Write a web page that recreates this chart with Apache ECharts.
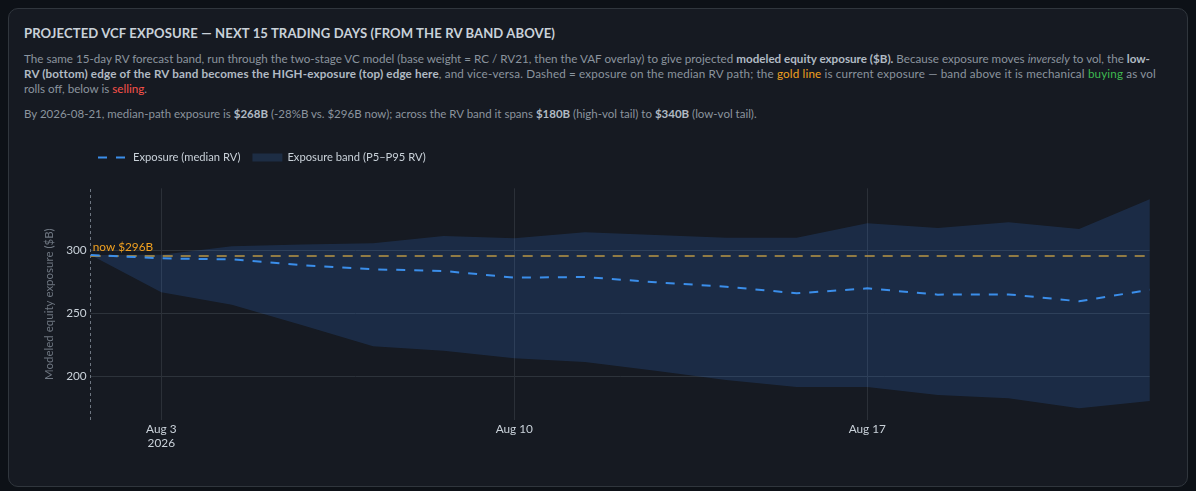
<!DOCTYPE html>
<html>
<head>
<meta charset="utf-8">
<script src="https://cdn.jsdelivr.net/npm/echarts@6/dist/echarts.min.js"></script>
<style>
    html, body { margin: 0; padding: 0; background: #0d1117; }
    body { width: 1196px; height: 491px; position: relative; overflow: hidden; font-family: Lato, "Open Sans", sans-serif; }
    .card { position: absolute; left: 8px; top: 8px; width: 1178px; height: 477px; background: #161a22; border: 1px solid #30363d; border-radius: 10px; }
    .title { position: absolute; left: 15px; top: 16px; font-size: 13.1px; font-weight: 700; color: #c9d1d9; letter-spacing: 0.1px; white-space: nowrap; }
    .desc { position: absolute; left: 15px; top: 42px; font-size: 11.65px; line-height: 15px; color: #8b949e; white-space: nowrap; }
    .desc2 { top: 97px; font-size: 11.5px; }
    .desc b { color: #b1bac4; }
    .wide { letter-spacing: 0.16px; }
    .gold { color: #f0a020; }
    .green { color: #3fb950; }
    .red { color: #f85149; }
    #chart { position: absolute; left: 0; top: 130px; width: 1196px; height: 350px; }
</style>
</head>
<body>
<div class="card">
    <div class="title">PROJECTED VCF EXPOSURE — NEXT 15 TRADING DAYS (FROM THE RV BAND ABOVE)</div>
    <div class="desc">The same 15-day RV forecast band, run through the two-stage VC model (base weight = RC / RV21, then the VAF overlay) to give projected <b>modeled equity exposure ($B).</b> Because exposure moves <i>inversely</i> to vol, the <b>low-</b><br><span class="wide"><b>RV (bottom) edge of the RV band becomes the HIGH-exposure (top) edge here</b>, and vice-versa. Dashed = exposure on the median RV path; the <span class="gold">gold line</span> is current exposure — band above it is mechanical <span class="green">buying</span> as vol</span><br>rolls off, below is <span class="red">selling</span>.</div>
    <div class="desc desc2">By 2026-08-21, median-path exposure is <b>$268B</b> (-28%B vs. $296B now); across the RV band it spans <b>$180B</b> (high-vol tail) to <b>$340B</b> (low-vol tail).</div>
</div>
<div id="chart"></div>
<script>
// trading days of the forecast window
var days = ['2026-07-31', '2026-08-03', '2026-08-04', '2026-08-05', '2026-08-06', '2026-08-07',
    '2026-08-10', '2026-08-11', '2026-08-12', '2026-08-13', '2026-08-14',
    '2026-08-17', '2026-08-18', '2026-08-19', '2026-08-20', '2026-08-21'];
// exposure on the median RV path ($B)
var median = [296.3, 293.6, 292.8, 288.1, 284.9, 283.6, 278.3, 278.8, 274.6, 271.1, 265.9,
    269.8, 264.8, 265.0, 259.5, 268.7];
// P95 / P5 edges of the exposure band ($B)
var bandHigh = [296.3, 296.5, 303.2, 304.5, 305.5, 311.3, 309.5, 314.3, 312.1, 310.0, 310.0,
    321.4, 317.7, 322.2, 316.9, 340.5];
var bandLow = [296.3, 266.7, 256.8, 240.5, 223.8, 220.3, 214.3, 211.3, 204.4, 197.0, 191.5,
    191.5, 185.2, 182.5, 174.6, 180.4];
var nowExposure = 296;
var monthNames = ['Jan', 'Feb', 'Mar', 'Apr', 'May', 'Jun', 'Jul', 'Aug', 'Sep', 'Oct', 'Nov', 'Dec'];

var bandWidth = bandHigh.map(function (v, i) { return +(v - bandLow[i]).toFixed(1); });

// week starts get a tick + grid line
function isWeekStart(idx) {
    return new Date(days[idx] + 'T00:00:00').getDay() === 1;
}
var firstLabel = true;

var myChart = echarts.init(document.getElementById('chart'));
var option = {
    animation: false,
    backgroundColor: 'transparent',
    textStyle: { fontFamily: 'Lato, Open Sans, sans-serif' },
    legend: {
        left: 92,
        top: 17,
        itemWidth: 30,
        itemHeight: 8,
        itemGap: 12,
        textStyle: { color: '#c9d1d9', fontSize: 11.2 },
        data: [
            { name: 'Exposure (median RV)', itemStyle: { opacity: 0 } },
            { name: 'Exposure band (P5–P95 RV)', icon: 'rect' }
        ]
    },
    grid: { left: 90.7, right: 46.3, top: 58.3, bottom: 60 },
    xAxis: {
        type: 'category',
        boundaryGap: false,
        data: days,
        axisLine: { show: false },
        axisTick: { show: false },
        splitLine: {
            show: true,
            interval: function (idx) { return isWeekStart(idx); },
            lineStyle: { color: '#2b3038', width: 1 }
        },
        axisLabel: {
            interval: function (idx) { return isWeekStart(idx); },
            color: '#c9d1d9',
            fontSize: 11.8,
            lineHeight: 14,
            margin: 2,
            formatter: function (val) {
                var d = new Date(val + 'T00:00:00');
                var s = monthNames[d.getMonth()] + ' ' + d.getDate();
                if (firstLabel) {
                    firstLabel = false;
                    s += '\n' + d.getFullYear();
                }
                return s;
            }
        }
    },
    yAxis: {
        type: 'value',
        min: 165.3,
        max: 349.2,
        splitNumber: 4,
        name: 'Modeled equity exposure ($B)',
        nameLocation: 'middle',
        nameGap: 31,
        nameTextStyle: { color: '#6e7681', fontSize: 11.5 },
        axisLine: { show: false },
        axisTick: { show: false },
        axisLabel: {
            color: '#c9d1d9',
            fontSize: 11.8,
            margin: 4,
            showMinLabel: false,
            showMaxLabel: false,
            formatter: function (v) { return v % 50 === 0 ? v : ''; }
        },
        splitLine: {
            show: true,
            showMinLine: false,
            showMaxLine: false,
            lineStyle: { color: '#2d333b', width: 1 }
        }
    },
    series: [
        {
            name: 'lower',
            type: 'line',
            stack: 'band',
            data: bandLow,
            symbol: 'none',
            silent: true,
            lineStyle: { opacity: 0 }
        },
        {
            name: 'Exposure band (P5–P95 RV)',
            type: 'line',
            stack: 'band',
            data: bandWidth,
            symbol: 'none',
            silent: true,
            itemStyle: { color: '#1d2d44' },
            lineStyle: { opacity: 0 },
            areaStyle: { color: 'rgba(56,139,253,0.16)', opacity: 1 }
        },
        {
            name: 'Exposure (median RV)',
            type: 'line',
            data: median,
            symbol: 'none',
            z: 5,
            itemStyle: { color: '#3b8eea' },
            lineStyle: { color: '#3b8eea', width: 2, type: [9, 9] },
            markLine: {
                symbol: 'none',
                silent: true,
                z: 3,
                data: [
                    {
                        yAxis: nowExposure,
                        lineStyle: { color: '#d29922', width: 1.5, type: [10, 8] },
                        label: {
                            show: true,
                            position: 'insideStartTop',
                            formatter: 'now $' + nowExposure + 'B',
                            color: '#f0a020',
                            fontSize: 11.8,
                            distance: [2, 2]
                        }
                    },
                    {
                        xAxis: 0,
                        lineStyle: { color: '#6e7681', width: 1, type: [3, 3] },
                        label: { show: false }
                    }
                ]
            }
        }
    ]
};
myChart.setOption(option);
</script>
</body>
</html>
